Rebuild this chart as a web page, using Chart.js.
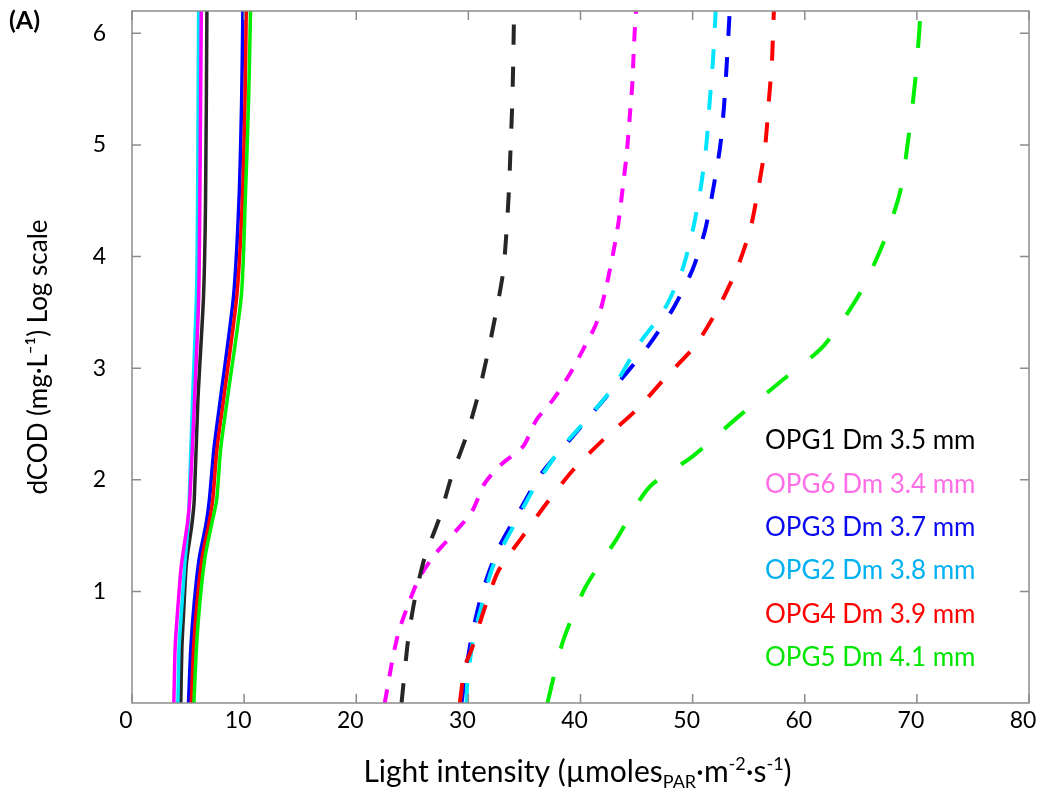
<!DOCTYPE html>
<html>
<head>
<meta charset="utf-8">
<script src="https://cdn.jsdelivr.net/npm/chart.js@4.4.1/dist/chart.umd.min.js"></script>
<style>
html,body{margin:0;padding:0;background:#fff;}
canvas{display:block;}
</style>
</head>
<body>
<canvas id="c" width="1055" height="792"></canvas>
<script>
// ---- tick values ----
const xTickValues = [0, 10, 20, 30, 40, 50, 60, 70, 80];
const yTickValues = [1, 2, 3, 4, 5, 6];

// ---- legend ----
const legendLabels = ['OPG1 Dm 3.5 mm', 'OPG6 Dm 3.4 mm', 'OPG3 Dm 3.7 mm', 'OPG2 Dm 3.8 mm', 'OPG4 Dm 3.9 mm', 'OPG5 Dm 4.1 mm'];
const legendColors = ['#000000', '#ff6ee6', '#0a0aee', '#00b0f0', '#ff0000', '#00e600'];

// ---- solid lines ----
const opg1SolidX = [4.35, 4.45, 4.6, 4.85, 5.34, 5.55, 5.88, 6.38, 6.56, 6.68];
const opg1SolidY = [0, 0.5, 0.8, 1.25, 1.6, 1.82, 2.72, 3.65, 4.5, 6.2];
const opg6SolidX = [3.73, 3.85, 4.05, 4.4, 4.93, 5.15, 5.58, 5.95, 6.05, 6.18];
const opg6SolidY = [0, 0.5, 0.8, 1.23, 1.6, 1.82, 2.72, 3.65, 4.5, 6.2];
const opg2SolidX = [4.09, 4.2, 4.4, 4.7, 5.0, 5.1, 5.4, 5.75, 5.85, 5.94];
const opg2SolidY = [0, 0.5, 0.8, 1.23, 1.6, 1.82, 2.72, 3.65, 4.5, 6.2];
const opg3SolidX = [5.04, 5.25, 5.55, 6.0, 6.6, 6.9, 7.3, 7.88, 9.06, 9.54, 9.78, 9.89];
const opg3SolidY = [0, 0.5, 0.9, 1.3, 1.6, 1.82, 2.27, 2.72, 3.65, 4.5, 5.4, 6.2];
const opg4SolidX = [5.29, 5.5, 5.8, 6.25, 6.85, 7.2, 7.57, 8.17, 9.35, 9.84, 10.08, 10.19];
const opg4SolidY = [0, 0.5, 0.9, 1.3, 1.6, 1.82, 2.27, 2.72, 3.65, 4.5, 5.4, 6.2];
const opg5SolidX = [5.52, 5.75, 6.05, 6.5, 7.1, 7.55, 7.9, 8.5, 9.75, 10.1, 10.4, 10.57];
const opg5SolidY = [0, 0.5, 0.9, 1.3, 1.6, 1.82, 2.27, 2.72, 3.65, 4.5, 5.4, 6.2];

// ---- dashed lines ----
const opg1DashX = [24.04, 24.63, 25.22, 26.12, 27.39, 28.5, 29.78, 30.82, 31.68, 32.43, 33.1, 33.41, 33.62, 33.77, 33.91, 34.0, 34.06, 34.08];
const opg1DashY = [0, 0.57, 0.93, 1.31, 1.65, 2.03, 2.38, 2.74, 3.11, 3.48, 3.86, 4.24, 4.6, 4.99, 5.36, 5.74, 6.11, 6.2];
const opg6DashX = [22.54, 23.29, 23.79, 24.63, 25.61, 27.0, 28.79, 30.29, 31.47, 32.96, 34.89, 36.09, 37.57, 39.06, 40.25, 41.45, 42.19, 42.93, 43.38, 43.82, 44.13, 44.42, 44.63, 44.78, 44.95];
const opg6DashY = [0, 0.42, 0.64, 0.88, 1.12, 1.33, 1.53, 1.71, 1.97, 2.14, 2.3, 2.54, 2.72, 2.95, 3.17, 3.41, 3.68, 4.04, 4.3, 4.66, 4.93, 5.29, 5.56, 5.92, 6.2];
const opg3DashX = [29.39, 29.84, 30.43, 31.32, 32.66, 34.6, 36.54, 39.06, 41.59, 44.13, 46.05, 48.29, 50.02, 51.12, 51.86, 52.46, 52.81, 53.05, 53.26, 53.3];
const opg3DashY = [0, 0.33, 0.66, 1.02, 1.38, 1.73, 2.06, 2.36, 2.66, 2.96, 3.2, 3.54, 3.89, 4.24, 4.62, 4.99, 5.36, 5.74, 6.11, 6.2];
const opg2DashX = [29.84, 29.9, 30.43, 31.18, 32.21, 34.0, 35.94, 38.17, 40.55, 42.93, 45.31, 47.39, 49.04, 50.02, 50.73, 51.21, 51.5, 51.8, 52.01, 52.05];
const opg2DashY = [0, 0.18, 0.57, 0.87, 1.23, 1.58, 1.94, 2.27, 2.54, 2.83, 3.23, 3.51, 3.87, 4.24, 4.62, 4.99, 5.36, 5.74, 6.11, 6.2];
const opg4DashX = [29.24, 29.69, 30.29, 31.32, 32.66, 34.89, 36.98, 39.36, 42.04, 45.02, 47.7, 50.22, 52.3, 53.95, 55.13, 55.88, 56.47, 56.77, 57.07, 57.21, 57.25];
const opg4DashY = [0, 0.33, 0.48, 0.81, 1.18, 1.5, 1.79, 2.09, 2.36, 2.63, 2.93, 3.2, 3.54, 3.89, 4.24, 4.62, 4.99, 5.36, 5.74, 6.11, 6.2];
const opg5DashX = [37.05, 38.4, 40.4, 43.1, 46.1, 50.0, 53.9, 58.1, 61.68, 64.8, 67.04, 68.53, 69.27, 69.87, 70.25, 70.3];
const opg5DashY = [0, 0.54, 1.03, 1.45, 1.93, 2.21, 2.55, 2.9, 3.2, 3.65, 4.13, 4.59, 5.08, 5.59, 6.07, 6.2];

// ---- text ----
const panelLabel = '(A)';
const yTitle = 'dCOD (mg·L⁻¹) Log scale';
const xTitleParts = [
  {t: 'Light intensity (µmoles', k: 'n'},
  {t: 'PAR', k: 'sub'},
  {t: '·m', k: 'n'},
  {t: '-2', k: 'sup'},
  {t: '·s', k: 'n'},
  {t: '-1', k: 'sup'},
  {t: ')', k: 'n'}
];

const FONT = 'Lato, "Open Sans", sans-serif';

function pts(xs, ys) { return xs.map((x, i) => ({x: x, y: ys[i]})); }

function solid(label, xs, ys, color) {
  return {label, data: pts(xs, ys), borderColor: color, borderWidth: 3.5, showLine: true,
    pointRadius: 0, tension: 0.25, fill: false};
}
function dashed(label, xs, ys, color, dash, width) {
  return {label, data: pts(xs, ys), borderColor: color, borderWidth: width || 4, showLine: true,
    pointRadius: 0, tension: 0.25, fill: false, borderDash: dash, borderCapStyle: 'butt'};
}

const datasets = [
  solid('OPG6 solid', opg6SolidX, opg6SolidY, '#ff00ff'),
  solid('OPG2 solid', opg2SolidX, opg2SolidY, '#00e5ff'),
  solid('OPG1 solid', opg1SolidX, opg1SolidY, '#262626'),
  solid('OPG5 solid', opg5SolidX, opg5SolidY, '#00ee00'),
  solid('OPG4 solid', opg4SolidX, opg4SolidY, '#ff0000'),
  solid('OPG3 solid', opg3SolidX, opg3SolidY, '#0000ff'),
  dashed('OPG1 dashed', opg1DashX, opg1DashY, '#262626', [20, 22]),
  dashed('OPG6 dashed', opg6DashX, opg6DashY, '#ff00ff', [14, 13]),
  dashed('OPG4 dashed', opg4DashX, opg4DashY, '#ff0000', [20, 21]),
  dashed('OPG2 dashed', opg2DashX, opg2DashY, '#00e5ff', [20, 21]),
  dashed('OPG3 dashed', opg3DashX, opg3DashY, '#0000ff', [20, 21]),
  dashed('OPG5 dashed', opg5DashX, opg5DashY, '#00ee00', [27, 29])
];

const decorPlugin = {
  id: 'decor',
  afterDatasetsDraw(chart) {
    const ctx = chart.ctx, ca = chart.chartArea;
    const xs = chart.scales.x, ys = chart.scales.y;
    ctx.save();
    ctx.strokeStyle = '#8c8c8c';
    ctx.lineWidth = 1.5;
    ctx.strokeRect(ca.left, ca.top, ca.right - ca.left, ca.bottom - ca.top);
    const tl = 9;
    ctx.beginPath();
    xTickValues.forEach(v => {
      const px = xs.getPixelForValue(v);
      ctx.moveTo(px, ca.bottom); ctx.lineTo(px, ca.bottom - tl);
      ctx.moveTo(px, ca.top); ctx.lineTo(px, ca.top + tl);
    });
    yTickValues.forEach(v => {
      const py = ys.getPixelForValue(v);
      ctx.moveTo(ca.left, py); ctx.lineTo(ca.left + tl, py);
      ctx.moveTo(ca.right, py); ctx.lineTo(ca.right - tl, py);
    });
    ctx.stroke();
    ctx.restore();
  },
  afterDraw(chart) {
    const ctx = chart.ctx, ca = chart.chartArea;
    ctx.save();
    ctx.textAlign = 'left';
    ctx.textBaseline = 'middle';
    ctx.font = '26px ' + FONT;
    legendLabels.forEach((t, i) => {
      ctx.fillStyle = legendColors[i];
      ctx.fillText(t, 765, 441 + i * 43.3);
    });
    ctx.fillStyle = '#000';
    ctx.font = 'bold 25px ' + FONT;
    ctx.fillText(panelLabel, 9, 21);
    const base = 30, small = 18;
    const fontFor = k => (k === 'n' ? base : small) + 'px ' + FONT;
    let total = 0;
    xTitleParts.forEach(p => { ctx.font = fontFor(p.k); total += ctx.measureText(p.t).width; });
    let x = (ca.left + ca.right) / 2 - 3 - total / 2;
    const yb = 782;
    ctx.textBaseline = 'alphabetic';
    ctx.fillStyle = '#000';
    xTitleParts.forEach(p => {
      ctx.font = fontFor(p.k);
      const dy = p.k === 'sub' ? 6 : (p.k === 'sup' ? -12 : 0);
      ctx.fillText(p.t, x, yb + dy);
      x += ctx.measureText(p.t).width;
    });
    ctx.restore();
  }
};

new Chart(document.getElementById('c'), {
  type: 'scatter',
  data: {datasets},
  options: {
    responsive: false,
    animation: false,
    devicePixelRatio: 1,
    layout: {padding: {top: 11, right: 26, left: 0, bottom: 0}},
    plugins: {legend: {display: false}, tooltip: {enabled: false}},
    scales: {
      x: {
        type: 'linear', min: 0, max: 80,
        afterBuildTicks: s => { s.ticks = xTickValues.map(v => ({value: v})); },
        afterFit: s => { s.height = 89; s.paddingLeft = 0; s.paddingRight = 0; },
        grid: {display: false, drawTicks: false},
        border: {display: false},
        ticks: {font: {family: FONT, size: 23}, color: '#000', padding: 4, labelOffset: -6, maxRotation: 0, autoSkip: false}
      },
      y: {
        type: 'linear', min: 0, max: 6.2,
        afterBuildTicks: s => { s.ticks = yTickValues.map(v => ({value: v})); },
        afterFit: s => { s.width = 132; s.paddingTop = 0; s.paddingBottom = 0; },
        grid: {display: false, drawTicks: false},
        border: {display: false},
        ticks: {font: {family: FONT, size: 23}, color: '#000', padding: 26, autoSkip: false},
        title: {display: true, text: yTitle, color: '#000', font: {family: FONT, size: 26}, padding: {top: 23, bottom: 0}}
      }
    }
  },
  plugins: [decorPlugin]
});
</script>
</body>
</html>
